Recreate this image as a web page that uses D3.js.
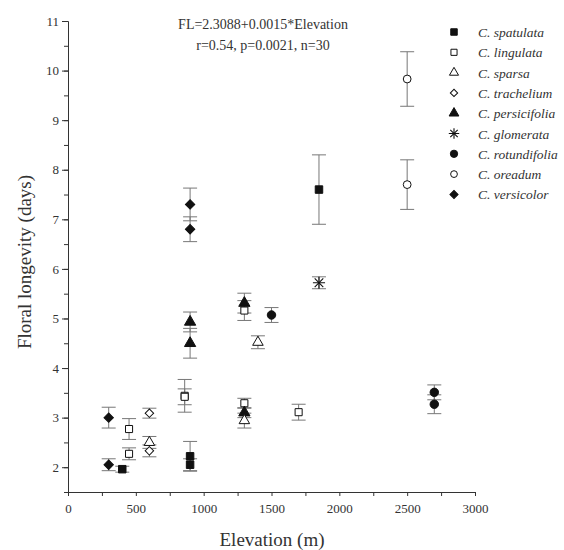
<!DOCTYPE html>
<html>
<head>
<meta charset="utf-8">
<script src="https://d3js.org/d3.v7.min.js"></script>
<style>
    body { margin: 0; background: #fff; }
    svg text { font-family: "Liberation Serif", "Times New Roman", serif; fill: #333; }
    .axis path, .axis line { stroke: #333; stroke-width: 1px; fill: none; }
    .axis text { font-size: 13px; }
</style>
</head>
<body>
<svg id="chart"></svg>
<script>
    // legend order
    var species = ["C. spatulata", "C. lingulata", "C. sparsa", "C. trachelium", "C. persicifolia",
        "C. glomerata", "C. rotundifolia", "C. oreadum", "C. versicolor"];

    // one entry per population (n=30)
    var pointSpecies = [8, 8, 0, 1, 1, 3, 2, 3, 1, 1, 0, 0, 8, 8, 4, 4, 1, 4, 1, 4, 2, 2, 6, 1, 0, 5, 7, 7, 6, 6];
    var elevation = [300, 300, 400, 450, 450, 600, 600, 600, 860, 860, 900, 900, 900, 900, 900, 900,
        1300, 1300, 1300, 1300, 1300, 1400, 1500, 1700, 1850, 1850, 2500, 2500, 2700, 2700];
    var longevity = [3.0, 2.05, 1.96, 2.77, 2.27, 3.09, 2.5, 2.33, 3.44, 3.42, 2.22, 2.05, 7.3, 6.8, 4.93, 4.5,
        5.16, 5.31, 3.29, 3.1, 2.94, 4.52, 5.07, 3.11, 7.6, 5.72, 9.83, 7.7, 3.51, 3.27];
    var stdErr = [0.21, 0.12, 0.06, 0.21, 0.12, 0.1, 0.12, 0.12, 0.33, 0.16, 0.3, 0.12, 0.33, 0.25, 0.2, 0.3,
        0.2, 0.2, 0.1, 0.1, 0.15, 0.13, 0.15, 0.16, 0.7, 0.12, 0.55, 0.5, 0.15, 0.19];

    var xTicks = [0, 500, 1000, 1500, 2000, 2500, 3000];
    var yTicks = [2, 3, 4, 5, 6, 7, 8, 9, 10, 11];

    var W = 564, H = 550;
    var svg = d3.select("#chart").attr("width", W).attr("height", H);

    var x = d3.scaleLinear().domain([0, 3000]).range([68, 475]);
    var y = d3.scaleLinear().domain([1.5, 11]).range([492, 21]);

    // marker style per species
    var markers = [
        { type: d3.symbolSquare, size: 56, fill: true, rot: 0 },
        { type: d3.symbolSquare, size: 50, fill: false, rot: 0 },
        { type: d3.symbolTriangle, size: 48, fill: false, rot: 0 },
        { type: d3.symbolSquare, size: 36, fill: false, rot: 45 },
        { type: d3.symbolTriangle, size: 55, fill: true, rot: 0 },
        { type: "star", size: 50, fill: true, rot: 0 },
        { type: d3.symbolCircle, size: 56, fill: true, rot: 0 },
        { type: d3.symbolCircle, size: 48, fill: false, rot: 0 },
        { type: d3.symbolSquare, size: 44, fill: true, rot: 45 }
    ];

    function drawMarker(g, k, scale) {
        var m = markers[k];
        if (m.type === "star") {
            [d3.symbolPlus, d3.symbolTimes].forEach(function(t) {
                g.append("path")
                    .attr("d", d3.symbol().type(t).size(m.size * scale)())
                    .attr("fill", "none").attr("stroke", "#111").attr("stroke-width", 1.1);
            });
            return;
        }
        g.append("path")
            .attr("d", d3.symbol().type(m.type).size(m.size * scale)())
            .attr("transform", "rotate(" + m.rot + ")")
            .attr("fill", m.fill ? "#111" : "#fff")
            .attr("stroke", "#111")
            .attr("stroke-width", 1);
    }

    // axes
    var xAxis = svg.append("g").attr("class", "axis")
        .attr("transform", "translate(0," + y(1.5) + ")");
    xAxis.call(d3.axisBottom(x).tickValues(d3.range(0, 3001, 250)).tickSize(4).tickFormat(""));
    xAxis.append("g").call(d3.axisBottom(x).tickValues(xTicks).tickSize(0).tickPadding(12).tickFormat(d3.format("d")))
        .call(function(g) { g.select(".domain").remove(); });

    var yAxis = svg.append("g").attr("class", "axis")
        .attr("transform", "translate(" + x(0) + ",0)");
    yAxis.call(d3.axisLeft(y).tickValues(d3.range(1.5, 11.01, 0.5)).tickSize(4).tickFormat(""));
    yAxis.append("g").call(d3.axisLeft(y).tickValues(yTicks).tickSize(6).tickPadding(3))
        .call(function(g) { g.select(".domain").remove(); });
    svg.selectAll(".axis").attr("font-family", "Liberation Serif");

    // error bars
    var idx = d3.range(longevity.length);
    var bars = svg.append("g").attr("stroke", "#777").attr("stroke-width", 1);
    idx.forEach(function(i) {
        var cx = x(elevation[i]);
        var y1 = y(longevity[i] + stdErr[i]), y2 = y(longevity[i] - stdErr[i]);
        bars.append("line").attr("x1", cx).attr("x2", cx).attr("y1", y1).attr("y2", y2);
        bars.append("line").attr("x1", cx - 7).attr("x2", cx + 7).attr("y1", y1).attr("y2", y1);
        bars.append("line").attr("x1", cx - 7).attr("x2", cx + 7).attr("y1", y2).attr("y2", y2);
    });

    // points
    idx.forEach(function(i) {
        var g = svg.append("g")
            .attr("transform", "translate(" + x(elevation[i]) + "," + y(longevity[i]) + ")");
        drawMarker(g, pointSpecies[i], 1);
    });

    // legend
    var legend = svg.append("g");
    species.forEach(function(s, k) {
        var ly = 32 + k * 20.3;
        drawMarker(legend.append("g").attr("transform", "translate(454," + ly + ")"), k, 0.75);
        legend.append("text").attr("x", 478).attr("y", ly + 5)
            .style("font-size", "13.5px").style("font-style", "italic").text(s);
    });

    // regression note
    svg.append("text").attr("x", 263).attr("y", 29).attr("text-anchor", "middle")
        .style("font-size", "14px").text("FL=2.3088+0.0015*Elevation");
    svg.append("text").attr("x", 263).attr("y", 50).attr("text-anchor", "middle")
        .style("font-size", "14px").text("r=0.54, p=0.0021, n=30");

    // axis titles
    svg.append("text").attr("x", 272).attr("y", 546).attr("text-anchor", "middle")
        .style("font-size", "19px").text("Elevation (m)");
    svg.append("text").attr("transform", "translate(31,262) rotate(-90)").attr("text-anchor", "middle")
        .style("font-size", "19px").text("Floral longevity (days)");
</script>
</body>
</html>
